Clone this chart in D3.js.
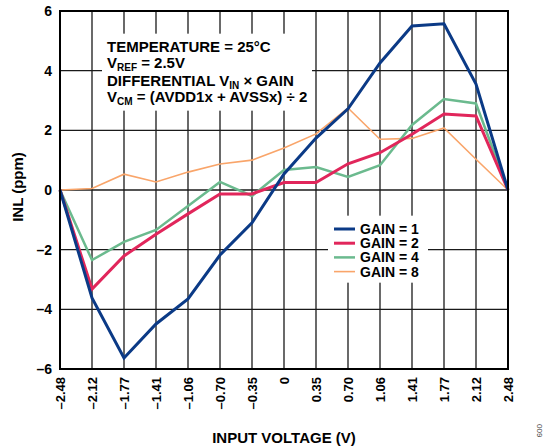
<!DOCTYPE html>
<html>
<head>
<meta charset="utf-8">
<script src="https://cdn.jsdelivr.net/npm/d3@7"></script>
<style>
  body { margin: 0; background: #fff; }
  svg text { font-family: "Liberation Sans", Arial, sans-serif; font-weight: bold; fill: #000; }
</style>
</head>
<body>
<svg id="chart" width="545" height="446"></svg>
<script>
// input voltage categories (V)
var voltages = ["−2.48", "−2.12", "−1.77", "−1.41", "−1.06", "−0.70", "−0.35", "0",
                "0.35", "0.70", "1.06", "1.41", "1.77", "2.12", "2.48"];
var xLabels = ["–2.48", "–2.12", "–1.77", "–1.41", "–1.06", "–0.70", "–0.35", "0",
               "0.35", "0.70", "1.06", "1.41", "1.77", "2.12", "2.48"];
var yTicks = [-6, -4, -2, 0, 2, 4, 6];

// INL (ppm) per gain
var gain1 = [0, -3.62, -5.63, -4.49, -3.65, -2.18, -1.1, 0.54, 1.74, 2.72, 4.26, 5.5, 5.57, 3.55, 0];
var gain2 = [0, -3.32, -2.21, -1.48, -0.8, -0.13, -0.13, 0.25, 0.25, 0.88, 1.25, 1.87, 2.55, 2.48, 0];
var gain4 = [0, -2.35, -1.74, -1.34, -0.54, 0.27, -0.2, 0.67, 0.77, 0.44, 0.83, 2.18, 3.05, 2.9, 0];
var gain8 = [0, 0.05, 0.53, 0.27, 0.6, 0.87, 1.0, 1.41, 1.88, 2.75, 1.7, 1.73, 2.08, 1.03, 0];

var series = [
  { name: "GAIN = 1", values: gain1, color: "#0b3a86", width: 3 },
  { name: "GAIN = 2", values: gain2, color: "#e1265b", width: 3 },
  { name: "GAIN = 4", values: gain4, color: "#6bba8e", width: 2.5 },
  { name: "GAIN = 8", values: gain8, color: "#f9a56a", width: 1.6 }
];

var svg = d3.select("#chart");
var margin = { top: 11, right: 37, bottom: 77, left: 60 };
var plotWidth = 545 - margin.left - margin.right;
var plotHeight = 446 - margin.top - margin.bottom;

var x = d3.scalePoint().domain(voltages).range([0, plotWidth]);
var y = d3.scaleLinear().domain([-6, 6]).range([plotHeight, 0]);

var translate = function(a, b) { return "translate(" + a + ", " + b + ")"; };

var plot = svg.append("g").attr("transform", translate(margin.left, margin.top));

// grid
plot.append("g").selectAll("line")
  .data(voltages)
  .enter().append("line")
  .attr("x1", function(d) { return x(d); })
  .attr("x2", function(d) { return x(d); })
  .attr("y1", 0).attr("y2", plotHeight)
  .attr("stroke", "#1a1a1a").attr("stroke-width", 1.3);

plot.append("g").selectAll("line")
  .data(yTicks)
  .enter().append("line")
  .attr("x1", 0).attr("x2", plotWidth)
  .attr("y1", function(d) { return y(d); })
  .attr("y2", function(d) { return y(d); })
  .attr("stroke", "#1a1a1a").attr("stroke-width", 1.3);

// white boxes behind annotation and legend (cut the grid)
plot.append("rect")
  .attr("x", x(voltages[1]) + 10).attr("y", y(4) - 37)
  .attr("width", 210).attr("height", 77).attr("fill", "#fff");
plot.append("rect")
  .attr("x", x(voltages[8]) + 12).attr("y", y(-2) - 34)
  .attr("width", 100).attr("height", 67).attr("fill", "#fff");

// lines
var line = d3.line()
  .x(function(d, i) { return x(voltages[i]); })
  .y(function(d) { return y(d); });

plot.selectAll("path.series")
  .data(series.slice().reverse())
  .enter().append("path")
  .attr("class", "series")
  .attr("d", function(d) { return line(d.values); })
  .attr("fill", "none")
  .attr("stroke", function(d) { return d.color; })
  .attr("stroke-width", function(d) { return d.width; })
  .attr("stroke-linejoin", "miter");

// frame
plot.append("rect")
  .attr("x", 0).attr("y", 0)
  .attr("width", plotWidth).attr("height", plotHeight)
  .attr("fill", "none").attr("stroke", "#000").attr("stroke-width", 2);

// y axis labels
var yAxis = d3.axisLeft(y).tickValues(yTicks).tickSize(0).tickPadding(8)
  .tickFormat(function(d) { return d < 0 ? "–" + Math.abs(d) : d; });
var yg = plot.append("g").call(yAxis);
yg.select(".domain").remove();
yg.selectAll("text").style("font-size", "14px");

// x axis labels (rotated)
var xAxis = d3.axisBottom(x).tickSize(0).tickFormat(function(d, i) { return xLabels[i]; });
var xg = plot.append("g").attr("transform", translate(0, plotHeight)).call(xAxis);
xg.select(".domain").remove();
xg.selectAll("text")
  .style("font-size", "13px")
  .attr("text-anchor", "end")
  .attr("dy", "0.35em")
  .attr("transform", "translate(0, 8) rotate(-90)")
  .attr("x", 0).attr("y", 0);

// axis titles
svg.append("text")
  .attr("transform", translate(23, margin.top + plotHeight / 2 - 3) + " rotate(-90)")
  .attr("text-anchor", "middle")
  .style("font-size", "15px")
  .text("INL (ppm)");

svg.append("text")
  .attr("x", margin.left + plotWidth / 2).attr("y", 443)
  .attr("text-anchor", "middle")
  .style("font-size", "15px")
  .text("INPUT VOLTAGE (V)");

svg.append("text")
  .attr("transform", translate(537, 424) + " rotate(90)")
  .style("font-size", "8px").style("font-weight", "normal").style("fill", "#444")
  .text("009");

// annotation
var note = plot.append("text").style("font-size", "15px");
var nx = 47;
note.append("tspan").attr("x", nx).attr("y", 41).text("TEMPERATURE = 25°C");
note.append("tspan").attr("x", nx).attr("y", 57).text("V");
note.append("tspan").attr("dy", 3).style("font-size", "10px").text("REF");
note.append("tspan").attr("dy", -3).text(" = 2.5V");
note.append("tspan").attr("x", nx).attr("y", 75).text("DIFFERENTIAL V");
note.append("tspan").attr("dy", 3).style("font-size", "10px").text("IN");
note.append("tspan").attr("dy", -3).text(" × GAIN");
note.append("tspan").attr("x", nx).attr("y", 91).text("V");
note.append("tspan").attr("dy", 3).style("font-size", "10px").text("CM");
note.append("tspan").attr("dy", -3).text(" = (AVDD1x + AVSSx) ÷ 2");

// legend
var legend = plot.append("g").attr("transform", translate(274, 229 - margin.top));
var items = legend.selectAll("g")
  .data(series)
  .enter().append("g")
  .attr("transform", function(d, i) { return translate(0, i * 14.2); });
items.append("line")
  .attr("x1", 0).attr("x2", 21).attr("y1", 0).attr("y2", 0)
  .attr("stroke", function(d) { return d.color; })
  .attr("stroke-width", function(d) { return d.width; });
items.append("text")
  .attr("x", 26).attr("y", 0).attr("dy", "0.36em")
  .style("font-size", "14px")
  .text(function(d) { return d.name; });
</script>
</body>
</html>
